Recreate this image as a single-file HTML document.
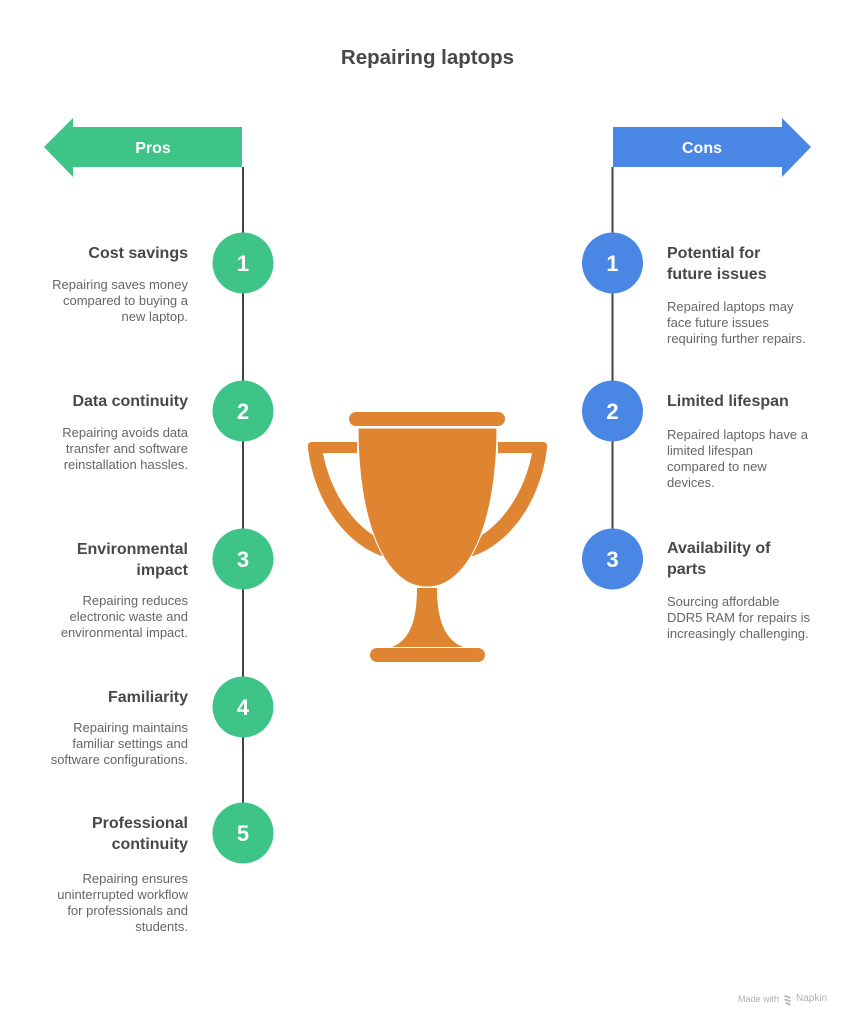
<!DOCTYPE html>
<html>
<head>
<meta charset="utf-8">
<style>
  html,body{margin:0;padding:0;background:#fff;}
  body{width:855px;height:1024px;position:relative;overflow:hidden;font-family:"Liberation Sans",Arial,sans-serif;}
  svg{position:absolute;left:0;top:0;}
  .t{position:absolute;color:#484848;font-weight:bold;font-size:16px;line-height:21px;}
  .b{position:absolute;color:#666;font-size:13px;line-height:16px;}
  .l{right:667px;width:170px;text-align:right;}
  .r{left:667px;width:170px;text-align:left;}
  .title{position:absolute;left:0;width:855px;top:46px;text-align:center;font-weight:bold;font-size:20.5px;color:#484848;line-height:24px;}
  .wm{position:absolute;top:993px;font-size:9px;color:#b0b0b0;line-height:12px;white-space:nowrap;}
</style>
</head>
<body>
<svg width="855" height="1024" viewBox="0 0 855 1024">
  <!-- arrows -->
  <polygon points="242,127 73,127 73,118 44,147 73,177 73,167 242,167" fill="#3EC486"/>
  <polygon points="613,127 782,127 782,118 811,147 782,177 782,167 613,167" fill="#4A87E5"/>
  <text x="153" y="153" text-anchor="middle" font-family="Liberation Sans, Arial, sans-serif" font-weight="bold" font-size="16" fill="#fff">Pros</text>
  <text x="702" y="153" text-anchor="middle" font-family="Liberation Sans, Arial, sans-serif" font-weight="bold" font-size="16" fill="#fff">Cons</text>
  <!-- lines -->
  <line x1="243" y1="167" x2="243" y2="805" stroke="#444" stroke-width="2"/>
  <line x1="612.5" y1="167" x2="612.5" y2="530" stroke="#444" stroke-width="2"/>
  <!-- pros circles -->
  <g fill="#3EC486">
    <circle cx="243" cy="263" r="30.5"/>
    <circle cx="243" cy="411" r="30.5"/>
    <circle cx="243" cy="559" r="30.5"/>
    <circle cx="243" cy="707" r="30.5"/>
    <circle cx="243" cy="833" r="30.5"/>
  </g>
  <g fill="#4A87E5">
    <circle cx="612.5" cy="263" r="30.5"/>
    <circle cx="612.5" cy="411" r="30.5"/>
    <circle cx="612.5" cy="559" r="30.5"/>
  </g>
  <g font-family="Liberation Sans, Arial, sans-serif" font-weight="bold" font-size="22" fill="#fff" text-anchor="middle">
    <text x="243" y="271">1</text>
    <text x="243" y="419">2</text>
    <text x="243" y="567">3</text>
    <text x="243" y="715">4</text>
    <text x="243" y="841">5</text>
    <text x="612.5" y="271">1</text>
    <text x="612.5" y="419">2</text>
    <text x="612.5" y="567">3</text>
  </g>
  <!-- trophy -->
  <g fill="#DF8532">
    <rect x="349" y="412" width="156" height="14" rx="7"/>
    <path d="M357,442 H312 Q307,442 308,448 C314,500 345,545 385,557 L373,535 C350,520 330,490 323,453 H357 Z"/>
    <path d="M498,442 H543 Q548,442 547,448 C541,500 510,545 470,557 L482,535 C505,520 525,490 532,453 H498 Z"/>
    <path d="M358,428 H497 C497,520 470,587 427,587 C384,587 358,520 358,428 Z" stroke="#fff" stroke-width="1"/>
    <path d="M417,588 H437 C437,620 445,640 463,647 H392 C410,640 417,620 417,588 Z"/>
    <rect x="370" y="648" width="115" height="14" rx="7"/>
  </g>
  <!-- napkin icon -->
  <g fill="#b8b8b8">
    <path d="M785,995 l6,2 l-1,1.6 l-6,-2z M785,998.5 l6,2 l-1,1.6 l-6,-2z M786,1002 l5,2 l-1,1.6 l-5,-2z"/>
  </g>
</svg>

<div class="title">Repairing laptops</div>

<!-- Pros -->
<div class="t l" style="top:243px;">Cost savings</div>
<div class="b l" style="top:277px;">Repairing saves money<br>compared to buying a<br>new laptop.</div>

<div class="t l" style="top:391px;">Data continuity</div>
<div class="b l" style="top:425px;">Repairing avoids data<br>transfer and software<br>reinstallation hassles.</div>

<div class="t l" style="top:539px;">Environmental<br>impact</div>
<div class="b l" style="top:593px;">Repairing reduces<br>electronic waste and<br>environmental impact.</div>

<div class="t l" style="top:687px;">Familiarity</div>
<div class="b l" style="top:720px;">Repairing maintains<br>familiar settings and<br>software configurations.</div>

<div class="t l" style="top:813px;">Professional<br>continuity</div>
<div class="b l" style="top:871px;">Repairing ensures<br>uninterrupted workflow<br>for professionals and<br>students.</div>

<!-- Cons -->
<div class="t r" style="top:243px;">Potential for<br>future issues</div>
<div class="b r" style="top:299px;">Repaired laptops may<br>face future issues<br>requiring further repairs.</div>

<div class="t r" style="top:391px;">Limited lifespan</div>
<div class="b r" style="top:427px;">Repaired laptops have a<br>limited lifespan<br>compared to new<br>devices.</div>

<div class="t r" style="top:538px;">Availability of<br>parts</div>
<div class="b r" style="top:594px;">Sourcing affordable<br>DDR5 RAM for repairs is<br>increasingly challenging.</div>

<div class="wm" style="left:738px;">Made with</div>
<div class="wm" style="left:796px;font-size:10px;">Napkin</div>
</body>
</html>
